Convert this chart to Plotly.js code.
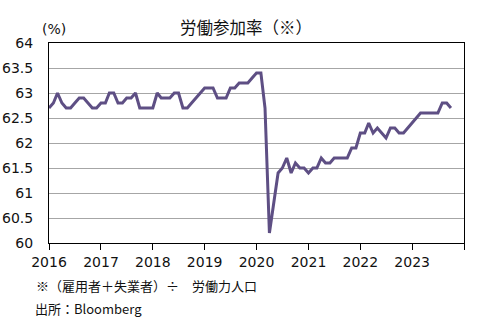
<!DOCTYPE html>
<html>
<head>
<meta charset="utf-8">
<script src="https://cdn.plot.ly/plotly-3.0.1.min.js"></script>
<style>html,body{margin:0;padding:0;background:#fff;}#chart{width:502px;height:321px;}</style>
</head>
<body>
<div id="chart"></div>
<script>
// Monthly labour participation rate (%), Jan 2016 – Oct 2023
var startYear = 2016;
var rate2016 = [62.7, 62.8, 63.0, 62.8, 62.7, 62.7, 62.8, 62.9, 62.9, 62.8, 62.7, 62.7];
var rate2017 = [62.8, 62.8, 63.0, 63.0, 62.8, 62.8, 62.9, 62.9, 63.0, 62.7, 62.7, 62.7];
var rate2018 = [62.7, 63.0, 62.9, 62.9, 62.9, 63.0, 63.0, 62.7, 62.7, 62.8, 62.9, 63.0];
var rate2019 = [63.1, 63.1, 63.1, 62.9, 62.9, 62.9, 63.1, 63.1, 63.2, 63.2, 63.2, 63.3];
var rate2020 = [63.4, 63.4, 62.7, 60.2, 60.8, 61.4, 61.5, 61.7, 61.4, 61.6, 61.5, 61.5];
var rate2021 = [61.4, 61.5, 61.5, 61.7, 61.6, 61.6, 61.7, 61.7, 61.7, 61.7, 61.9, 61.9];
var rate2022 = [62.2, 62.2, 62.4, 62.2, 62.3, 62.2, 62.1, 62.3, 62.3, 62.2, 62.2, 62.3];
var rate2023 = [62.4, 62.5, 62.6, 62.6, 62.6, 62.6, 62.6, 62.8, 62.8, 62.7];

var yearTickVals = ['2016-01-01','2017-01-01','2018-01-01','2019-01-01','2020-01-01','2021-01-01','2022-01-01','2023-01-01','2024-01-01'];
var yearTickText = ['2016','2017','2018','2019','2020','2021','2022','2023',''];

var titleText = '労働参加率（※）';
var unitText = '(%)';
var noteText = '※（雇用者＋失業者）÷　労働力人口';
var sourceText = '出所：Bloomberg';

var yearly = [rate2016, rate2017, rate2018, rate2019, rate2020, rate2021, rate2022, rate2023];
var xs = [], ys = [];
yearly.forEach(function (arr, yi) {
  arr.forEach(function (v, mi) {
    var m = mi + 1;
    xs.push((startYear + yi) + '-' + (m < 10 ? '0' + m : m) + '-01');
    ys.push(v);
  });
});

var jp = '"Noto Sans CJK JP", "Noto Sans", sans-serif';
var num = '"DejaVu Sans", Verdana, sans-serif';

var data = [{
  x: xs, y: ys, type: 'scatter', mode: 'lines',
  line: {color: '#5E4F84', width: 3},
  hoverinfo: 'skip'
}];

var layout = {
  width: 502, height: 321,
  margin: {l: 49, r: 38, t: 43, b: 78},
  paper_bgcolor: '#ffffff', plot_bgcolor: '#ffffff',
  showlegend: false,
  xaxis: {
    type: 'date',
    range: ['2016-01-01', '2024-01-01'],
    tickmode: 'array', tickvals: yearTickVals, ticktext: yearTickText,
    ticks: 'outside', ticklen: 6, tickwidth: 1, tickcolor: '#000',
    showgrid: false, zeroline: false,
    showline: true, linecolor: '#000', linewidth: 1, mirror: true,
    tickfont: {family: num, size: 14, color: '#111'},
    fixedrange: true
  },
  yaxis: {
    range: [60, 64], dtick: 0.5, tick0: 60,
    ticks: '', showgrid: true, gridcolor: '#A6A6A6', gridwidth: 1,
    zeroline: false,
    showline: true, linecolor: '#000', linewidth: 1, mirror: true,
    tickfont: {family: num, size: 14, color: '#111'},
    ticklabelstandoff: 12,
    fixedrange: true
  },
  annotations: [
    {text: titleText, xref: 'paper', yref: 'paper', x: 0.4735, y: 1.08, xanchor: 'center', yanchor: 'middle', showarrow: false, font: {family: jp, size: 16.5, color: '#111'}},
    {text: unitText, xref: 'paper', yref: 'paper', x: 0.013, y: 1.07, xanchor: 'center', yanchor: 'middle', showarrow: false, font: {family: num, size: 14, color: '#111'}},
    {text: noteText, xref: 'paper', yref: 'paper', x: -0.035, y: -0.21, xanchor: 'left', yanchor: 'middle', showarrow: false, font: {family: jp, size: 13, color: '#111'}},
    {text: sourceText, xref: 'paper', yref: 'paper', x: -0.038, y: -0.325, xanchor: 'left', yanchor: 'middle', showarrow: false, font: {family: jp, size: 13, color: '#111'}}
  ]
};

Plotly.newPlot('chart', data, layout, {displayModeBar: false, staticPlot: true});
</script>
</body>
</html>
